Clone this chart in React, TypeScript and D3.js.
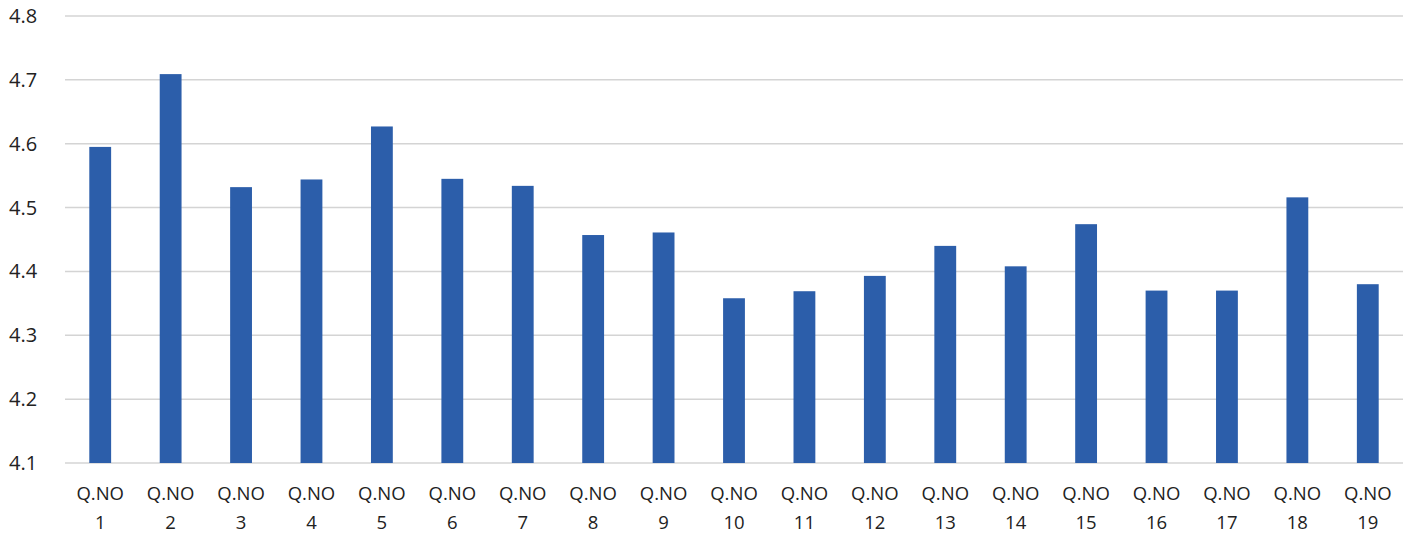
import React from "react";
import * as d3 from "d3";

const categories = ["1","2","3","4","5","6","7","8","9","10","11","12","13","14","15","16","17","18","19"];
const values = [4.595, 4.709, 4.532, 4.544, 4.627, 4.545, 4.534, 4.457, 4.461, 4.358, 4.369, 4.393, 4.44, 4.408, 4.474, 4.37, 4.37, 4.516, 4.38];
const yTicks = [4.1, 4.2, 4.3, 4.4, 4.5, 4.6, 4.7, 4.8];

export default function App() {
  const W = 1416, H = 535;
  const left = 65, right = 1403, top = 16, bottom = 463;
  const x = d3.scaleBand<string>().domain(categories).range([left, right]).paddingInner(0.69).paddingOuter(0.345);
  const y = d3.scaleLinear().domain([4.1, 4.8]).range([bottom, top]);
  const font = "'Open Sans', sans-serif";
  return (
    <svg width={W} height={H} style={{ position: "absolute", left: 0, top: 0, background: "#fff" }}>
      {yTicks.map((t) => (
        <g key={t}>
          <line x1={left} x2={right} y1={y(t)} y2={y(t)} stroke="#d4d4d4" strokeWidth={1.5} />
          <text x={9} y={y(t)} dy="0.35em" fontFamily={font} fontSize={20} fill="#222">{t.toFixed(1)}</text>
        </g>
      ))}
      {categories.map((c, i) => (
        <rect key={c} x={x(c)} y={y(values[i])} width={x.bandwidth()} height={bottom - y(values[i])} fill="#2C5EAA" />
      ))}
      {categories.map((c) => {
        const cx = (x(c) as number) + x.bandwidth() / 2;
        return (
          <text key={c} x={cx} textAnchor="middle" fontFamily={font} fontSize={18.5} fill="#222">
            <tspan x={cx} y={500}>Q.NO</tspan>
            <tspan x={cx} y={529}>{c}</tspan>
          </text>
        );
      })}
    </svg>
  );
}
